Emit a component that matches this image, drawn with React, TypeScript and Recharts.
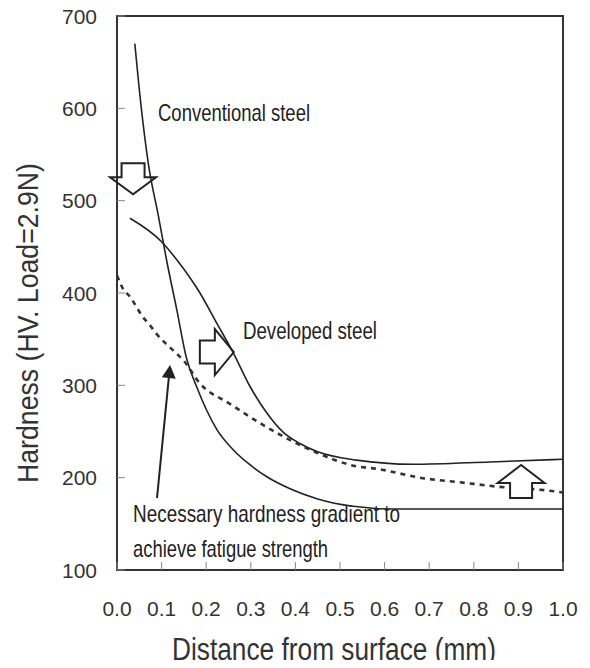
import React from 'react';
import { LineChart, Line, XAxis, YAxis, ReferenceArea, ReferenceDot, ReferenceLine, Label } from 'recharts';

// distance from surface (mm) vs hardness (HV)
const xTicks = [0, 0.1, 0.2, 0.3, 0.4, 0.5, 0.6, 0.7, 0.8, 0.9, 1.0];
const yTicks = [100, 200, 300, 400, 500, 600, 700];

const conventional = [
  { d: 0.04, hv: 670 },
  { d: 0.055, hv: 598 },
  { d: 0.07, hv: 541 },
  { d: 0.093, hv: 483 },
  { d: 0.111, hv: 436 },
  { d: 0.134, hv: 382 },
  { d: 0.156, hv: 329 },
  { d: 0.179, hv: 298 },
  { d: 0.201, hv: 273 },
  { d: 0.224, hv: 252 },
  { d: 0.261, hv: 230 },
  { d: 0.298, hv: 214 },
  { d: 0.336, hv: 201 },
  { d: 0.388, hv: 188 },
  { d: 0.45, hv: 177 },
  { d: 0.53, hv: 169 },
  { d: 0.62, hv: 166 },
  { d: 0.75, hv: 166 },
  { d: 1.0, hv: 166 },
];

const developed = [
  { d: 0.029, hv: 481 },
  { d: 0.1, hv: 455.5 },
  { d: 0.134, hv: 436 },
  { d: 0.186, hv: 400 },
  { d: 0.224, hv: 367 },
  { d: 0.261, hv: 335 },
  { d: 0.298, hv: 299 },
  { d: 0.336, hv: 270 },
  { d: 0.373, hv: 249 },
  { d: 0.41, hv: 237 },
  { d: 0.45, hv: 228 },
  { d: 0.537, hv: 219 },
  { d: 0.664, hv: 214.5 },
  { d: 0.836, hv: 217 },
  { d: 1.0, hv: 220 },
];

const necessary = [
  { d: 0.0, hv: 419 },
  { d: 0.013, hv: 405 },
  { d: 0.029, hv: 396 },
  { d: 0.058, hv: 374 },
  { d: 0.074, hv: 365 },
  { d: 0.09, hv: 355 },
  { d: 0.13, hv: 336 },
  { d: 0.149, hv: 327 },
  { d: 0.186, hv: 302 },
  { d: 0.253, hv: 280 },
  { d: 0.321, hv: 259 },
  { d: 0.395, hv: 239 },
  { d: 0.448, hv: 227 },
  { d: 0.53, hv: 213 },
  { d: 0.59, hv: 209 },
  { d: 0.679, hv: 200 },
  { d: 0.769, hv: 195 },
  { d: 0.859, hv: 190 },
  { d: 0.948, hv: 187 },
  { d: 1.0, hv: 184 },
];

const FONT = '"Liberation Sans", Arial, Helvetica, sans-serif';
const INK = '#222';

const YTick = ({ x, y, payload }: any) => (
  <g>
    <line x1={x + 20} x2={x + 28} y1={y} y2={y} stroke="#888" />
    <text x={x} y={y} dy={7.5} textAnchor="end" fontSize={21} fill="#333" fontFamily={FONT}>
      {payload.value}
    </text>
  </g>
);

const XTick = ({ x, y, payload }: any) => (
  <g>
    <line x1={x} x2={x} y1={y} y2={y - 8} stroke="#888" />
    <text x={x} y={y + 46} textAnchor="middle" fontSize={21} fill="#333" fontFamily={FONT}>
      {payload.value.toFixed(1)}
    </text>
  </g>
);

const YTitle = ({ viewBox }: any) => {
  const tx = viewBox.x + 1;
  const ty = viewBox.y + viewBox.height / 2 + 30;
  return (
    <text x={tx} y={ty} transform={`rotate(-90, ${tx}, ${ty})`} textAnchor="middle" fontSize={30}
      textLength={320} lengthAdjust="spacingAndGlyphs" fill="#333" fontFamily={FONT}>
      Hardness (HV. Load=2.9N)
    </text>
  );
};

const XTitle = ({ viewBox }: any) => (
  <text x={viewBox.x + viewBox.width / 2 - 6} y={viewBox.y + 90} textAnchor="middle" fontSize={31}
    textLength={324} lengthAdjust="spacingAndGlyphs" fill="#333" fontFamily={FONT}>
    Distance from surface (mm)
  </text>
);

// hollow block arrows, drawn around the tip point
const downArrow = ({ cx, cy }: any) => (
  <path d={`M${cx},${cy} L${cx - 23},${cy - 17} L${cx - 11.5},${cy - 17} L${cx - 11.5},${cy - 31} L${cx + 11.5},${cy - 31} L${cx + 11.5},${cy - 17} L${cx + 23},${cy - 17} Z`}
    fill="none" stroke={INK} strokeWidth={2} />
);

const rightArrow = ({ cx, cy }: any) => (
  <path d={`M${cx},${cy} L${cx - 19},${cy - 23} L${cx - 19},${cy - 11.5} L${cx - 34},${cy - 11.5} L${cx - 34},${cy + 11.5} L${cx - 19},${cy + 11.5} L${cx - 19},${cy + 23} Z`}
    fill="none" stroke={INK} strokeWidth={2} />
);

const upArrow = ({ cx, cy }: any) => (
  <path d={`M${cx},${cy} L${cx - 23.5},${cy + 18} L${cx - 11},${cy + 18} L${cx - 11},${cy + 33} L${cx + 11},${cy + 33} L${cx + 11},${cy + 18} L${cx + 23.5},${cy + 18} Z`}
    fill="#fff" stroke={INK} strokeWidth={2} />
);

const pointer = ({ x1, y1, x2, y2 }: any) => {
  const len = Math.hypot(x2 - x1, y2 - y1);
  const ux = (x2 - x1) / len;
  const uy = (y2 - y1) / len;
  const bx = x2 - ux * 13;
  const by = y2 - uy * 13;
  return (
    <g>
      <line x1={x1} y1={y1} x2={bx} y2={by} stroke={INK} strokeWidth={2} />
      <path d={`M${x2},${y2} L${bx - uy * 7},${by + ux * 7} L${bx + uy * 7},${by - ux * 7} Z`} fill={INK} />
    </g>
  );
};

const note = (text: string, size: number, length: number) => ({ cx, cy }: any) => (
  <text x={cx} y={cy} fontSize={size} textLength={length} lengthAdjust="spacingAndGlyphs" fill={INK} fontFamily={FONT}>
    {text}
  </text>
);

export default function App() {
  return (
    <div style={{ margin: -8 }}>
      <LineChart width={590} height={668} margin={{ top: 16, right: 27, bottom: 28, left: 37 }}>
        <XAxis type="number" dataKey="d" domain={[0, 1]} ticks={xTicks} allowDataOverflow axisLine={false}
          tickLine={false} tickSize={0} tickMargin={0} tick={<XTick />} height={70} interval={0}>
          <Label content={<XTitle />} />
        </XAxis>
        <YAxis type="number" dataKey="hv" domain={[100, 700]} ticks={yTicks} allowDataOverflow axisLine={false}
          tickLine={false} tickSize={0} tickMargin={20} tick={<YTick />} width={80} interval={0}>
          <Label content={<YTitle />} />
        </YAxis>
        <ReferenceArea x1={0} x2={1} y1={100} y2={700} fill="none" stroke="#333" strokeWidth={2} fillOpacity={0} />
        <Line data={conventional} dataKey="hv" type="monotone" stroke={INK} strokeWidth={1.6} dot={false}
          activeDot={false} isAnimationActive={false} />
        <Line data={developed} dataKey="hv" type="monotone" stroke={INK} strokeWidth={1.6} dot={false}
          activeDot={false} isAnimationActive={false} />
        <Line data={necessary} dataKey="hv" type="monotone" stroke="#333" strokeWidth={2.6} strokeDasharray="5 5"
          dot={false} activeDot={false} isAnimationActive={false} />
        <ReferenceDot x={0.036} y={507} ifOverflow="visible" shape={downArrow} />
        <ReferenceDot x={0.262} y={336} ifOverflow="visible" shape={rightArrow} />
        <ReferenceDot x={0.906} y={213.7} ifOverflow="visible" shape={upArrow} />
        <ReferenceLine segment={[{ x: 0.0897, y: 178 }, { x: 0.119, y: 322 }]} ifOverflow="visible" shape={pointer} />
        <ReferenceDot x={0.092} y={586.3} ifOverflow="visible" shape={note('Conventional steel', 24, 152)} />
        <ReferenceDot x={0.2825} y={350} ifOverflow="visible" shape={note('Developed steel', 23, 134)} />
        <ReferenceDot x={0.036} y={152} ifOverflow="visible" shape={note('Necessary hardness gradient to', 24, 267)} />
        <ReferenceDot x={0.036} y={114} ifOverflow="visible" shape={note('achieve fatigue strength', 24, 195)} />
      </LineChart>
    </div>
  );
}
